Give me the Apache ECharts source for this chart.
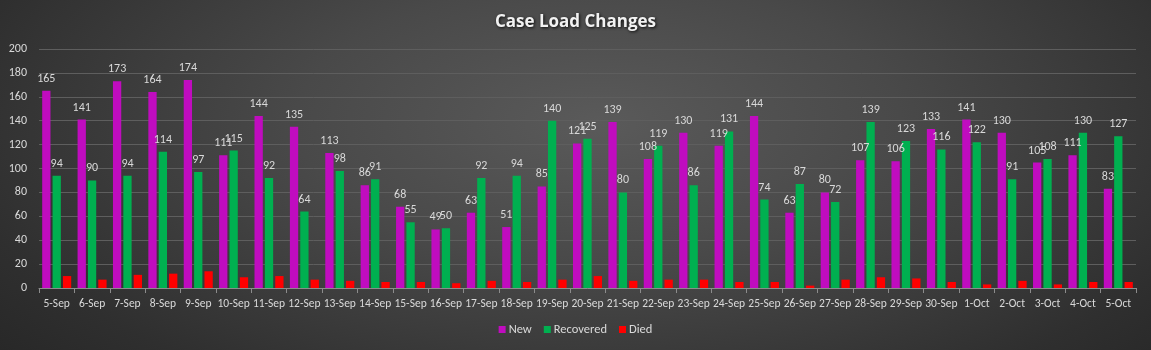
<!DOCTYPE html>
<html>
<head>
<meta charset="utf-8">
<script src="https://cdn.jsdelivr.net/npm/echarts@6/dist/echarts.min.js"></script>
<style>
  html, body { margin: 0; padding: 0; }
  body {
    width: 1151px; height: 350px; overflow: hidden;
    background: radial-gradient(ellipse 75% 115% at 52% 35%, #5a5a5a 0%, #494949 35%, #2f2f2f 75%, #232323 100%);
  }
  #chart { width: 1151px; height: 350px; }
</style>
</head>
<body>
<div id="chart"></div>
<script>
const dates = [
  "5-Sep", "6-Sep", "7-Sep", "8-Sep", "9-Sep", "10-Sep", "11-Sep", "12-Sep", "13-Sep", "14-Sep",
  "15-Sep", "16-Sep", "17-Sep", "18-Sep", "19-Sep", "20-Sep", "21-Sep", "22-Sep", "23-Sep", "24-Sep",
  "25-Sep", "26-Sep", "27-Sep", "28-Sep", "29-Sep", "30-Sep", "1-Oct", "2-Oct", "3-Oct", "4-Oct", "5-Oct",
];
const newCases = [
  165, 141, 173, 164, 174, 111, 144, 135, 113, 86,
  68, 49, 63, 51, 85, 121, 139, 108, 130, 119,
  144, 63, 80, 107, 106, 133, 141, 130, 105, 111, 83,
];
const recovered = [
  94, 90, 94, 114, 97, 115, 92, 64, 98, 91,
  55, 50, 92, 94, 140, 125, 80, 119, 86, 131,
  74, 87, 72, 139, 123, 116, 122, 91, 108, 130, 127,
];
const died = [
  10, 7, 11, 12, 14, 9, 10, 7, 6, 5,
  5, 4, 6, 5, 7, 10, 6, 7, 7, 5,
  5, 2, 7, 9, 8, 5, 3, 6, 3, 5, 5,
];

const FONT = "Carlito, Lato, 'Noto Sans', sans-serif";
const labelColor = "#d9d9d9";

const chart = echarts.init(document.getElementById("chart"), null, { renderer: "canvas" });

function barLabel(show) {
  return {
    show,
    position: "top",
    distance: 6,
    color: labelColor,
    fontSize: 12,
    fontFamily: FONT,
  };
}

chart.setOption({
  backgroundColor: "transparent",
  animation: false,
  title: {
    text: "Case Load Changes",
    left: "center",
    top: 9,
    textStyle: {
      color: "#f2f2f2",
      fontSize: 17,
      fontWeight: "bold",
      fontFamily: "'Open Sans', Lato, sans-serif",
      textShadowColor: "rgba(0,0,0,0.85)",
      textShadowBlur: 3,
      textShadowOffsetX: 1,
      textShadowOffsetY: 1,
    },
  },
  legend: {
    bottom: 9,
    left: "center",
    itemWidth: 7,
    itemHeight: 7,
    itemGap: 12,
    icon: "rect",
    textStyle: { color: labelColor, fontSize: 12.5, fontFamily: FONT, padding: [0, 0, 0, -2] },
    data: ["New", "Recovered", "Died"],
  },
  grid: { left: 39, right: 15, top: 49, bottom: 62, containLabel: false },
  xAxis: {
    type: "category",
    data: dates,
    axisLine: { lineStyle: { color: "#8c8c8c", width: 1 } },
    axisTick: { show: true, length: 5, lineStyle: { color: "#8c8c8c" } },
    axisLabel: { interval: 0, color: labelColor, fontSize: 11.5, fontFamily: FONT, margin: 10 },
  },
  yAxis: {
    type: "value",
    min: 0,
    max: 200,
    interval: 20,
    axisLine: { show: false },
    axisTick: { show: false },
    splitLine: { lineStyle: { color: "#5e5e5e", width: 1 } },
    axisLabel: { color: labelColor, fontSize: 12, fontFamily: FONT, margin: 12 },
  },
  series: [
    {
      name: "New",
      type: "bar",
      data: newCases,
      barGap: "25%",
      barCategoryGap: "18%",
      itemStyle: { color: "#c00cbf" },
      label: barLabel(true),
    },
    {
      name: "Recovered",
      type: "bar",
      data: recovered,
      itemStyle: { color: "#00b050" },
      label: barLabel(true),
    },
    {
      name: "Died",
      type: "bar",
      data: died,
      itemStyle: { color: "#ff0000" },
      label: barLabel(false),
    },
  ],
});
</script>
</body>
</html>
